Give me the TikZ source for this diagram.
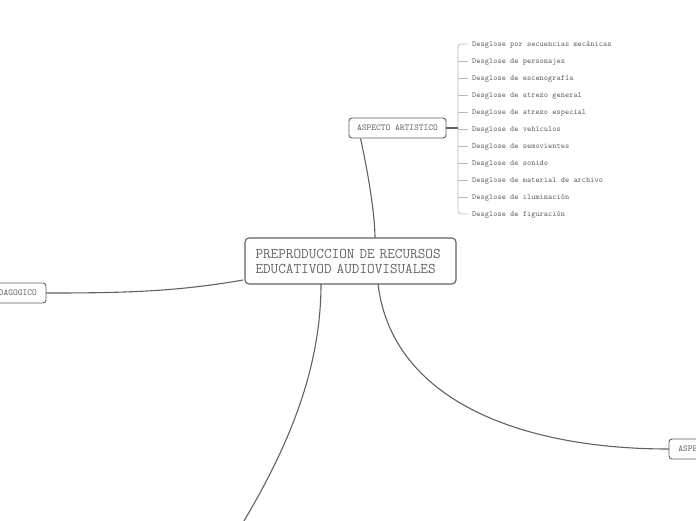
\documentclass[tikz,border=0pt]{standalone}
\usetikzlibrary{calc}
\definecolor{edge}{HTML}{5B626B}
\definecolor{txt}{HTML}{63676B}
\definecolor{brk}{HTML}{B8BCC0}
\tikzset{
  topic/.style={draw=edge, line width=0.9pt, rounded corners=3pt, fill=white, text=txt, font=\ttfamily\fontsize{9.05}{10}\selectfont, inner sep=0pt, minimum height=20pt},
  central/.style={draw=edge, line width=1.1pt, rounded corners=4pt, fill=white, text=txt, font=\ttfamily\fontsize{14.8}{15}\selectfont, align=left, text width=190pt, minimum width=211pt, minimum height=46pt, inner sep=0pt},
  leaf/.style={anchor=base west, text=txt, font=\ttfamily\fontsize{7.95}{9}\selectfont, inner sep=0pt},
  conn/.style={draw=edge, line width=1.1pt},
  brkline/.style={draw=brk, line width=0.8pt}
}
\begin{document}
\begin{tikzpicture}[x=1pt,y=-1pt]
\useasboundingbox (0,0) rectangle (696,520);
\clip (0,0) rectangle (696,520);
% connectors
\coordinate (ctop) at (375,238);
\coordinate (bottomend) at (200,590);
\draw[conn] (ctop) .. controls (375,215) and (368,172) .. (360.5,138.5);
\draw[conn] (243,280) .. controls (175,292) and (120,293) .. (46,293);
\draw[conn] (378,284) .. controls (392,400) and (520,449) .. (669,449);
\draw[conn] (321,284) .. controls (321,400) and (260,500) .. (bottomend);
% nodes
\node[central] (c) at (350.5,261) {PREPRODUCCION DE RECURSOS\\EDUCATIVOD AUDIOVISUALES};
\node[topic, minimum width=97pt] (art) at (397.5,128) {ASPECTO ARTISTICO};
\node[topic, minimum width=104pt] (ped) at (-6,293) {ASPECTO PEDAGOGICO};
\node[topic, minimum width=90pt] (tec) at (714,449) {ASPECTO TECNICO};
% bracket
\coordinate (bx) at (458,128);
\foreach \i/\t in {0/Desglose por secuencias mecánicas,1/Desglose de personajes,2/Desglose de escenografía,3/Desglose de atrezo general,4/Desglose de atrezo especial,5/Desglose de vehículos,6/Desglose de semovientes,7/Desglose de sonido,8/Desglose de material de archivo,9/Desglose de iluminación,10/Desglose de figuración}{
  \node[leaf] (l\i) at (472,{46.5+17*\i}) {\t};
}
\draw[brkline, rounded corners=3pt] (468,44) -- (458,44) -- (458,214) -- (468,214);
\foreach \i in {1,...,9}{
  \draw[brkline] (458,{44+17*\i}) -- (468,{44+17*\i});
}
\draw[conn, line width=1.5pt] (art.east) -- (bx);
\end{tikzpicture}
\end{document}
